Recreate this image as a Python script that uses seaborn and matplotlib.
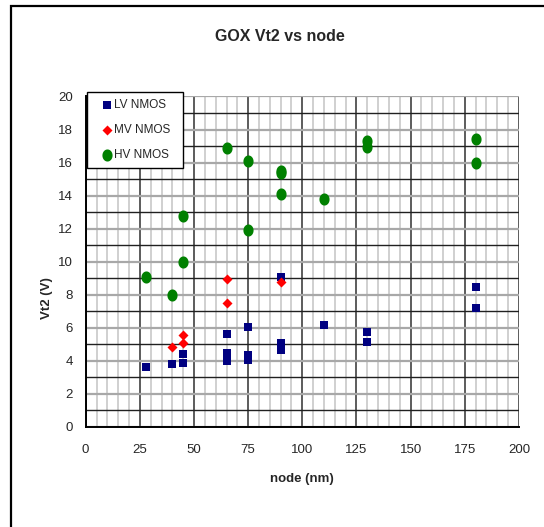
import numpy as np
import pandas as pd
import matplotlib
matplotlib.use("Agg")
import matplotlib.pyplot as plt
from matplotlib.path import Path
from matplotlib.patches import Rectangle
from matplotlib.ticker import MultipleLocator
import seaborn as sns

# Vt2 measurements per technology node
lv_node = [28, 40, 45, 45, 65, 65, 65, 75, 75, 75, 90, 90, 90, 110, 130, 130, 180, 180]
lv_vt2 = [3.6, 3.8, 4.4, 3.9, 5.6, 4.5, 4.0, 6.05, 4.35, 4.05, 9.1, 5.1, 4.65, 6.2, 5.75, 5.15, 8.5, 7.2]

mv_node = [40, 45, 45, 65, 65, 90]
mv_vt2 = [4.85, 5.55, 5.1, 8.95, 7.5, 8.8]

hv_node = [28, 40, 45, 45, 65, 75, 75, 90, 90, 90, 110, 130, 130, 180, 180]
hv_vt2 = [9.1, 8.0, 10.0, 12.75, 16.9, 16.1, 11.9, 15.5, 15.35, 14.1, 13.8, 17.3, 16.95, 17.4, 16.0]

series_names = ["LV NMOS", "MV NMOS", "HV NMOS"]
x_ticks = [0, 25, 50, 75, 100, 125, 150, 175, 200]
y_ticks = [0, 2, 4, 6, 8, 10, 12, 14, 16, 18, 20]

frames = []
for name, xs, ys in zip(series_names, [lv_node, mv_node, hv_node], [lv_vt2, mv_vt2, hv_vt2]):
    frames.append(pd.DataFrame({"node": xs, "vt2": ys, "series": name}))
df = pd.concat(frames, ignore_index=True)

sns.set_style("white")
plt.rcParams["font.family"] = ["Liberation Sans", "DejaVu Sans"]

# slightly tall ellipse marker for the HV series
t = np.linspace(0, 2 * np.pi, 41)
ellipse = Path(np.column_stack([0.42 * np.cos(t), 0.5 * np.sin(t)]), closed=True)

styles = {
    "LV NMOS": dict(color="#000080", marker="s", s=27),
    "MV NMOS": dict(color="#FF0000", marker="D", s=26),
    "HV NMOS": dict(color="#008000", marker=ellipse, s=76),
}

W, H = 544, 527
fig = plt.figure(figsize=(W / 100, H / 100), dpi=100)
ax = fig.add_axes([0.1575, 0.1898, 0.954 - 0.1575, 0.8169 - 0.1898])

for name in series_names:
    st = styles[name]
    sns.scatterplot(data=df[df["series"] == name], x="node", y="vt2", ax=ax,
                    color=st["color"], marker=st["marker"], s=st["s"],
                    linewidth=0, label=name, zorder=5, clip_on=False)

ax.set_xlim(0, 200)
ax.set_ylim(0, 20)
ax.set_xticks(x_ticks)
ax.set_yticks(y_ticks)
ax.xaxis.set_minor_locator(MultipleLocator(5))
ax.yaxis.set_minor_locator(MultipleLocator(1))

ax.grid(False)
ax.set_axisbelow(True)
ax.grid(True, which="major", axis="x", color="#303030", linewidth=1.1)
ax.grid(True, which="minor", axis="x", color="#d0d0d0", linewidth=1.4)
ax.grid(True, which="major", axis="y", color="#a8a8a8", linewidth=1.6)
ax.grid(True, which="minor", axis="y", color="#202020", linewidth=1.0)

for side in ["top", "right"]:
    ax.spines[side].set_visible(False)
for side in ["left", "bottom"]:
    ax.spines[side].set_color("black")
    ax.spines[side].set_linewidth(1.4)

ax.tick_params(axis="both", which="major", direction="out", length=4, width=1,
               color="black", labelsize=9.5, pad=5)
ax.tick_params(axis="x", which="major", pad=8)
ax.tick_params(axis="both", which="minor", length=0)

ax.set_xlabel("")
ax.set_ylabel("")
fig.text(0.5545, 0.091, "node (nm)", ha="center", va="center",
         fontsize=9.5, fontweight="bold")
fig.text(0.0864, 0.4345, "Vt2 (V)", ha="center", va="center", rotation=90,
         fontsize=9.5, fontweight="bold")
fig.text(0.515, 0.93, "GOX Vt2 vs node", ha="center", va="center",
         fontsize=11.5, fontweight="bold")

# legend box drawn separately so its padding can be set per side
ax.add_patch(Rectangle((86.7 / W, 1 - 168 / H), (183 - 86.7) / W, (168 - 92) / H,
                       transform=fig.transFigure, facecolor="white",
                       edgecolor="black", linewidth=1.0, zorder=9, clip_on=False))
leg = ax.legend(loc="upper left", bbox_to_anchor=(103.5 / W, 1 - 99.5 / H),
                bbox_transform=fig.transFigure, frameon=False,
                fontsize=8.5, labelspacing=1.1, handlelength=0.6,
                handletextpad=0.3, borderpad=0, borderaxespad=0)
leg.set_zorder(10)

# outer chart border
fig.patches.append(Rectangle((11 / W, -0.05), 1.2, 1 - 6 / H + 0.05,
                             transform=fig.transFigure, fill=False,
                             edgecolor="black", linewidth=1.6, zorder=0))

fig.savefig("out.png", dpi=100, facecolor="white")
